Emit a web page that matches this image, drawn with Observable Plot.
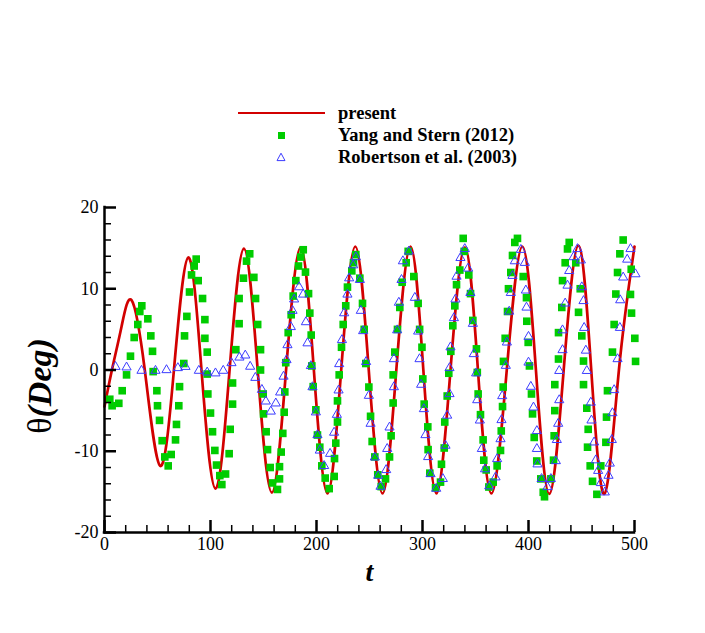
<!DOCTYPE html>
<html><head><meta charset="utf-8">
<script src="https://cdn.jsdelivr.net/npm/d3@7"></script>
<script src="https://cdn.jsdelivr.net/npm/@observablehq/plot@0.6"></script>
<style>
body{margin:0;background:#fff;}
#wrap{width:705px;height:633px;position:relative;overflow:hidden;background:#fff;font-family:'Liberation Serif','Times New Roman',serif;}
#legend{position:relative;width:705px;height:190px;}
.lt{position:absolute;left:338px;font-weight:bold;font-size:18.5px;line-height:20px;transform:translateY(-50%);white-space:nowrap;color:#000;}
#chart svg{display:block;}
</style></head><body>
<div id="wrap"><div id="legend"></div><div id="chart"></div></div>
<script>
// ---- data ----
const seriesNames = ["present", "Yang and Stern (2012)", "Robertson et al. (2003)"];
const xTitle = "t";
const yTitle = "θ(Deg)";
const xMajor = [0, 100, 200, 300, 400, 500];
const yMajor = [-20, -10, 0, 10, 20];

// present (red line): t, theta read at extremes / zero crossings
const presentT = [0,7,16,25.5,38,52.5,65.5,79,91.5,104.7,118,131.5,144.5,157.9,171.3,185,197.5,210.4,223.3,236.6,249.3,262.3,275.3,288.7,300.8,313.2,326.4,340,352.3,365,379.5,394.2,407,419.6,433.2,447,459.2,471.6,485.3,500];
const presentTheta = [-4.5,0,5.3,8.6,0,-11.8,0,13.85,0,-14.6,0,14.95,0,-15.1,0,15.1,0,-15.2,0,15.2,0,-15.2,0,15.2,0,-15.2,0,15.1,0,-15.2,0,15.2,0,-15.25,0,15.3,0,-15.25,0,15.2];

// Yang and Stern (2012): [t, theta]
const yangPoints = [
[5.0,-3.6],[7.2,-4.4],[13.5,-4.1],[16.7,-2.55],[20.8,-0.6],[24.5,1.7],[28,4.0],[31.4,5.6],[33.3,7.2],[35.2,7.9],
[40.9,6.3],[43.7,4.2],[45.3,2.3],[45.9,-0.2],[49.4,-2.55],[50,-4.4],[51.9,-6.2],[54.4,-8.7],[56.9,-10.7],[60.1,-11.8],
[62.9,-10.4],[67,-8.6],[67.9,-6.7],[70.1,-4.4],[70.8,-2.05],[74.8,0.8],[75.5,4.2],[77.7,6.6],[80.2,9.6],[82.1,11.7],
[84.6,12.8],[86.5,13.65],[88.4,11.0],[92.5,8.8],[94.7,6.2],[94.7,3.9],[96.9,2.2],[96.9,-0.5],[97.5,-2.95],[100,-5.3],
[101.9,-7.6],[104.1,-9.9],[105.7,-11.7],[108.8,-13.0],[110.7,-14.1],[114.2,-12.8],[117.6,-10.3],[118.6,-7.3],[120.8,-4.2],[120.8,-1.6],
[123.9,2.5],[127,5.7],[127,8.8],[131.1,11.3],[134,13.4],[137,14.3],[140.9,11.4],[142.5,8.8],[144.5,5.6],[147.2,2.5],
[147.2,0],[149.7,-2.95],[150,-5.4],[152.5,-7.6],[153.8,-9.8],[156.3,-12.0],[158.5,-13.9],[163.2,-14.7],[165.1,-13.4],[165.1,-11.9],
[166.7,-10.1],[168.2,-7.8],[169.5,-5.2],[170.1,-2.7],[171,0.9],[173.3,4.6],[176.1,6.8],[178,9.1],[180.5,11.0],[183,12.8],
[185.2,13.9],[187.5,14.8],[189.6,12.05],[192.5,9.4],[193.7,7.0],[195,4.3],[195.6,0.5],[196.9,-2.05],[199.4,-4.9],[200.9,-8.0],
[203.1,-9.5],[205,-11.8],[208.2,-13.3],[212,-14.6],[216.7,-13.1],[217,-10.9],[218.2,-9.0],[219.8,-6.4],[219.8,-3.8],[221.4,-0.6],
[223.6,2.8],[225.2,5.6],[227.6,7.9],[229.2,10.2],[233.3,12.2],[234.9,13.2],[237.1,14.2],[240.9,11.3],[243.4,8.2],[245,5.0],
[246.5,0.8],[249.4,-2.1],[251,-5.7],[252.5,-8.8],[255,-10.7],[257.8,-12.9],[261,-14.35],[265.1,-13.4],[268.9,-10.7],[270.4,-8.1],
[272.3,-4.06],[272.3,-0.6],[273.9,2.2],[276.4,5.0],[278.6,7.7],[280.8,10.8],[284.6,13.2],[286.5,14.6],[291.8,11.5],[295.9,8.2],
[297.3,5.0],[299.5,2.8],[300.3,-1.1],[301.6,-4.2],[305,-7.0],[305.3,-9.8],[306.9,-12.7],[312.3,-14.5],[317,-13.8],[317.9,-11.6],
[320.5,-9.6],[321,-6.4],[323.3,-3.2],[324.8,-0.4],[326.7,2.3],[328.6,5.45],[330.5,7.9],[332.1,10.5],[335.2,12.3],[338.4,16.2],
[339.3,14.6],[343.7,11.7],[345.3,9.4],[347.5,6.1],[350.9,2.6],[351.7,-0.3],[352.5,-2.95],[354.7,-5.5],[357.2,-8.6],[357.8,-11.1],
[360.1,-12.3],[362.6,-14.4],[366.7,-13.8],[370.4,-11.8],[373.6,-9.9],[374.3,-7.5],[375.5,-4.5],[376.1,-2.1],[376.4,1.06],[378,3.9],
[380.2,7.2],[381.1,10.0],[383.3,12.0],[384.9,14.1],[387.1,15.7],[389.6,16.2],[395,11.5],[398.1,8.9],[398.4,6.0],[399.7,3.4],
[400.9,0.5],[402.8,-2.95],[403.8,-5.4],[405.4,-8.3],[407.8,-11.2],[411.6,-13.4],[413.9,-15.05],[415.1,-15.6],[421.1,-13.4],[423.6,-11.1],
[424.2,-8.1],[424.8,-5.0],[424.8,-1.8],[428.3,1.35],[428.3,4.6],[431.4,7.7],[432.1,11.0],[434.6,13.2],[436.8,14.9],[438.4,15.7],
[444.6,13.2],[447.2,7.1],[448.8,10.0],[450.3,4.2],[451.9,1.1],[451.9,-1.8],[455,-4.7],[456.3,-7.3],[455.7,-9.5],[458.2,-11.8],
[460.4,-13.7],[464.5,-15.3],[468.2,-11.8],[473,-8.9],[473.6,-5.8],[474.5,-2.55],[479.2,2.2],[480.8,5.6],[482.4,9.35],[484,12.0],
[486.2,14.3],[489.3,16.0],[496.9,12.4],[496.2,9.3],[497.2,7.0],[500.3,3.9],[501,1.06]
];

// Robertson et al. (2003): [t, theta]
const robPoints = [
[10.4,0.4],[20.8,0.33],[34.9,-0.08],[48.1,-0.08],[58.5,0],[69.2,0.25],[76.4,0.4],[89,-0.08],[96.9,-0.29],[104.7,-0.4],
[112,-0.08],[119.8,0.86],[127.3,1.55],[132.8,1.8],[137.4,0.42],[142.3,-0.95],[148.5,-2.43],[152.2,-3.86],[156.9,-5.1],[161.6,-4.1],
[165.7,-2.75],[168.9,-0.8],[171.7,1.23],[172.6,3.07],[175.8,5.3],[177.4,7.3],[178.9,8.7],[183.6,10.2],[187.4,9.3],[190,5.9],
[191.5,3.3],[194.7,0.5],[196.2,-2.1],[199.4,-5.2],[200.9,-8.0],[203.1,-9.9],[207.2,-11.8],[212.8,-10.3],[216.6,-7.7],[219.2,-5.5],
[220.8,-2.5],[221.4,0.74],[224,3.7],[226.1,7.0],[229.2,9.3],[230.8,11.3],[234.6,12.9],[237.1,13.9],[240.9,11.1],[241.8,7.3],
[244,4.8],[246.8,1.0],[249.4,-3.16],[251,-6.6],[255,-10.75],[258.2,-13.0],[260.4,-14.35],[265.7,-12.3],[266.7,-9.7],[268.9,-7.06],
[273,-2.1],[273,1.35],[276.1,4.9],[277.7,8.3],[280.2,11.1],[281.5,13.4],[287.1,14.6],[292.8,8.9],[295.9,4.75],[297.2,1.35],
[298.7,-1.8],[301.3,-4.8],[302.8,-8.0],[305.3,-10.7],[307.6,-12.8],[312.9,-14.6],[319.2,-13.4],[321.7,-9.3],[323.3,-5.6],[325.5,-2.95],
[325.5,0.25],[326.4,2.8],[329.6,6.4],[331.1,8.7],[332.1,11.5],[335.8,13.8],[339.9,14.9],[343,12.5],[345.2,9.5],[347.5,5.7],
[348.4,1.97],[350.6,-0.4],[351.6,-3.7],[354.1,-6.2],[356,-9.7],[359,-12.2],[363,-14.3],[368.9,-13.2],[370.4,-10.95],[373.6,-8.5],
[374.5,-6.15],[375.2,-3.2],[378.6,0.53],[379.6,3.4],[381.8,7.2],[383.3,9.5],[384.9,11.6],[387.1,13.4],[392.8,14.8],[396.5,13.2],
[397.5,9.8],[398.1,7.7],[400,4.1],[400,0.93],[402.2,-2.05],[404.7,-4.6],[407.9,-7.5],[407.9,-9.7],[408.5,-11.6],[412.3,-13.4],
[417.9,-14.4],[421.1,-13.4],[425.8,-11.2],[426.7,-8.6],[428,-6.6],[429,-3.7],[429,-0.1],[432.1,2.46],[432.1,4.9],[434.6,8.2],
[436.8,10.4],[438.4,12.2],[442.5,13.9],[446.2,14.9],[449.4,13.5],[450.3,10.2],[451.9,8.5],[452.5,5.2],[454.1,2.4],[455,-0.1],
[458.8,-4.0],[459.4,-6.2],[461.9,-8.9],[463.5,-11.1],[465.7,-12.4],[468.2,-13.9],[472,-15.05],[475.5,-13.0],[476.7,-11.5],[478.6,-8.6],
[479.2,-5.3],[480.8,-2.46],[484,1.35],[486.2,5.2],[486.5,8.6],[489.3,11.4],[493.1,13.6],[496.2,14.9],[500.9,11.8]
];

// ---- styles ----
const RED = "#d20000", GREEN = "#00cc00", BLUE = "#3c3cff";
const FONT = "'Liberation Serif','Times New Roman',serif";

const present = presentT.map((t, i) => ({t, v: presentTheta[i]}));
const yang = yangPoints.map(([t, v]) => ({t, v}));
const rob = robPoints.map(([t, v]) => ({t, v}));

// ---- legend (HTML above the SVG) ----
const legend = d3.select("#legend");
const rowsY = [113, 135, 157];
legend.append("div").style("position","absolute").style("left","238px").style("top",(rowsY[0]-1.3)+"px")
  .style("width","87px").style("border-top","2.6px solid "+RED);
legend.append("div").style("position","absolute").style("left","277.5px").style("top",(rowsY[1]-3.5)+"px")
  .style("width","7px").style("height","7px").style("background",GREEN);
legend.append("div").style("position","absolute").style("left","276px").style("top",(rowsY[2]-5)+"px")
  .html(`<svg width="10" height="10" style="display:block"><polygon points="5,1.2 9,8.6 1,8.6" fill="none" stroke="${BLUE}" stroke-width="1"/></svg>`);
seriesNames.forEach((n, i) => {
  legend.append("div").attr("class","lt").style("top", rowsY[i]+"px").text(n);
});

// ---- chart ----
const W = 705, H = 443;
const mL = 104, mR = 71, mT = 17, mB = 101;
const fw = W - mL - mR, fh = H - mT - mB;
const xMinor = d3.range(20, 500, 20).filter(d => d % 100 !== 0);
const yMinor = d3.range(-18, 20, 2).filter(d => d % 10 !== 0);

const chart = Plot.plot({
  width: W, height: H,
  marginLeft: mL, marginRight: mR, marginTop: mT, marginBottom: mB,
  style: {fontFamily: FONT, fontSize: "18px", background: "white", color: "black", overflow: "visible"},
  x: {domain: [0, 500]},
  y: {domain: [-20, 20]},
  marks: [
    Plot.line(present, {x: "t", y: "v", stroke: RED, strokeWidth: 2.7, curve: "natural"}),
    Plot.dot(yang, {x: "t", y: "v", symbol: "square", r: 4.3, fill: GREEN}),
    Plot.dot(rob, {x: "t", y: "v", symbol: "triangle", r: 3.4, stroke: BLUE, fill: "none", strokeWidth: 1}),
    Plot.tickX(xMinor, {x: d => d, insetTop: fh - 7, strokeWidth: 1.5}),
    Plot.tickX(xMajor, {x: d => d, insetTop: fh - 12, strokeWidth: 2.5}),
    Plot.tickY(yMinor, {y: d => d, insetRight: fw - 7, strokeWidth: 1.5}),
    Plot.tickY(yMajor, {y: d => d, insetRight: fw - 12, strokeWidth: 2.5}),
    Plot.ruleX([0], {strokeWidth: 2.5, strokeLinecap: "square"}),
    Plot.ruleY([-20], {strokeWidth: 2.5, strokeLinecap: "square"}),
    Plot.axisX(xMajor, {label: null, tickSize: 0, tickPadding: 5, fontSize: 18, fontFamily: FONT, tickFormat: d => String(d)}),
    Plot.axisY(yMajor, {label: null, tickSize: 0, tickPadding: 6, fontSize: 18, fontFamily: FONT, tickFormat: d => String(d)}),
    Plot.text([yTitle], {frameAnchor: "left", textAnchor: "middle", lineAnchor: "middle", dx: -64, dy: 16, rotate: -90, fontSize: 34, fontFamily: FONT}),
    Plot.text([xTitle], {frameAnchor: "bottom", textAnchor: "middle", lineAnchor: "middle", dy: 40, fontSize: 28, fontFamily: FONT, fontWeight: "bold", fontStyle: "italic"})
  ]
});
document.getElementById("chart").appendChild(chart);

// mixed styling for the y title: θ regular, (Deg) bold italic
d3.select(chart).selectAll("text").filter(function() { return this.textContent === yTitle; })
  .each(function() {
    const t = d3.select(this);
    t.text(null);
    t.append("tspan").text(yTitle.slice(0, 1));
    t.append("tspan").attr("font-weight", "bold").attr("font-style", "italic").text(yTitle.slice(1));
  });
</script>
</body></html>
